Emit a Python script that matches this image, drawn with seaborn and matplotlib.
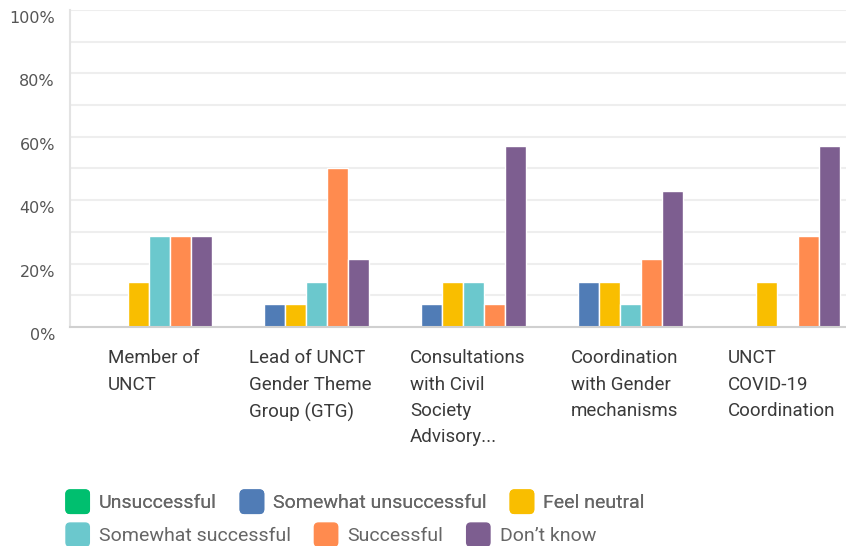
import numpy as np
import pandas as pd
import matplotlib
matplotlib.use("Agg")
import matplotlib.pyplot as plt
from matplotlib.patches import Patch, FancyBboxPatch
from matplotlib.legend_handler import HandlerPatch
from matplotlib.transforms import ScaledTranslation
import seaborn as sns

# data (percent of respondents)
categories = [
    "Member of\nUNCT",
    "Lead of UNCT\nGender Theme\nGroup (GTG)",
    "Consultations\nwith Civil\nSociety\nAdvisory...",
    "Coordination\nwith Gender\nmechanisms",
    "UNCT\nCOVID-19\nCoordination",
]
responses = ["Unsuccessful", "Somewhat unsuccessful", "Feel neutral",
             "Somewhat successful", "Successful", "Don\u2019t know"]
unsuccessful = [0.0, 0.0, 0.0, 0.0, 0.0]
somewhat_unsuccessful = [0.0, 7.14, 7.14, 14.29, 0.0]
feel_neutral = [14.29, 7.14, 14.29, 14.29, 14.29]
somewhat_successful = [28.57, 14.29, 14.29, 7.14, 0.0]
successful = [28.57, 50.0, 7.14, 21.43, 28.57]
dont_know = [28.57, 21.43, 57.14, 42.86, 57.14]
colors = ["#00BF6F", "#507CB6", "#F9BE00", "#6BC8CD", "#FF8B4F", "#7D5E90"]

series = [unsuccessful, somewhat_unsuccessful, feel_neutral,
          somewhat_successful, successful, dont_know]
rows = []
for resp, vals in zip(responses, series):
    for cat, v in zip(categories, vals):
        rows.append({"category": cat, "response": resp, "value": v})
df = pd.DataFrame(rows)

sns.set_style("white")
plt.rcParams["font.family"] = ["Roboto", "DejaVu Sans"]

fig = plt.figure(figsize=(8.46, 5.46), dpi=100)
ax = fig.add_axes([0.083, 0.401, 0.928, 0.581])

sns.barplot(data=df, x="category", y="value", hue="response",
            order=categories, hue_order=responses, palette=colors,
            saturation=1, width=0.8, edgecolor="white", linewidth=1,
            legend=False, ax=ax)

ax.set_ylim(0, 100)
ax.set_xlim(-0.5, len(categories) - 0.5)
ax.set_yticks(np.arange(0, 101, 20))
ax.set_yticks(np.arange(0, 101, 10), minor=True)
ax.set_yticklabels([f"{t}%" for t in range(0, 101, 20)],
                   fontfamily="DejaVu Sans")
ax.grid(axis="y", which="both", color="#eeeeee", linewidth=1.5)
ax.set_axisbelow(True)
ax.set_xlabel("")
ax.set_ylabel("")

for s in ["top", "right"]:
    ax.spines[s].set_visible(False)
ax.spines["left"].set_color("#e3e3e3")
ax.spines["left"].set_linewidth(1.5)
ax.spines["bottom"].set_color("#d0d0d0")
ax.spines["bottom"].set_linewidth(1.5)

ax.tick_params(axis="y", length=0, pad=11, labelsize=11.5, labelcolor="#555555")
ax.tick_params(axis="x", length=0, pad=16, labelsize=13.5, labelcolor="#3a3a3a")
ax.tick_params(which="minor", length=0)

down = ScaledTranslation(0, -0.07, fig.dpi_scale_trans)
for lab in ax.get_yticklabels():
    lab.set_transform(lab.get_transform() + down)

right = ScaledTranslation(0.05, 0, fig.dpi_scale_trans)
for lab in ax.get_xticklabels():
    lab.set_horizontalalignment("center")
    lab.set_multialignment("left")
    lab.set_linespacing(1.6)
    lab.set_transform(lab.get_transform() + right)


def rounded_square(legend, orig_handle, xdescent, ydescent, width, height, fontsize):
    return FancyBboxPatch((-xdescent, -ydescent + (height - width) / 2), width, width,
                          boxstyle="round,pad=0,rounding_size=3")


handles = [Patch(facecolor=c, edgecolor=c) for c in colors]
leg_kw = dict(ncol=3, frameon=False, fontsize=14, handlelength=1.2,
              handleheight=1.2, handletextpad=0.5, columnspacing=1.2,
              labelcolor="#666666", borderaxespad=0, borderpad=0,
              loc="center left",
              handler_map={Patch: HandlerPatch(patch_func=rounded_square)})
leg1 = fig.legend(handles[:3], responses[:3],
                  bbox_to_anchor=(66 / 846, 1 - 502 / 546), **leg_kw)
fig.add_artist(leg1)
leg2 = fig.legend(handles[3:], responses[3:],
                  bbox_to_anchor=(66 / 846, 1 - 535 / 546), **leg_kw)

fig.savefig("out.png", dpi=100)
